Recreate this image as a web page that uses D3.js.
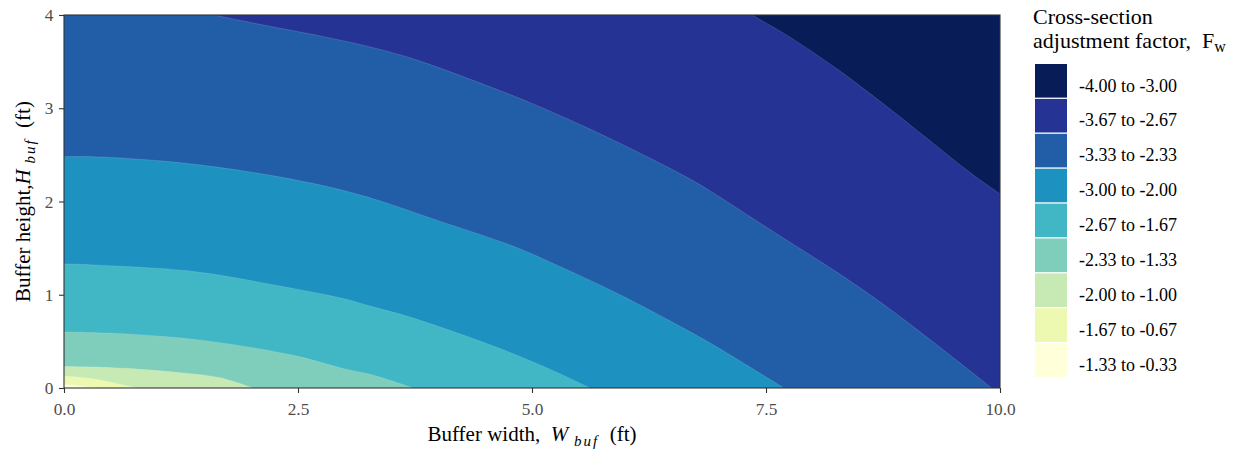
<!DOCTYPE html>
<html>
<head>
<meta charset="utf-8">
<script src="https://cdn.jsdelivr.net/npm/d3@7"></script>
<style>
  body { margin: 0; background: #ffffff; }
  svg { display: block; font-family: "Liberation Serif", "Times New Roman", serif; }
</style>
</head>
<body>
<svg id="chart" width="1237" height="452"></svg>
<script>
// Axis ticks
const xTickValues = [0, 2.5, 5, 7.5, 10];
const yTickValues = [0, 1, 2, 3, 4];

// Legend bins, darkest to lightest
const binLabels = [
  "-4.00 to -3.00", "-3.67 to -2.67", "-3.33 to -2.33",
  "-3.00 to -2.00", "-2.67 to -1.67", "-2.33 to -1.33",
  "-2.00 to -1.00", "-1.67 to -0.67", "-1.33 to -0.33"
];

// Contour boundaries as [W (ft), H (ft)] points, each running from the
// left/top edge of the panel to the bottom/right edge.
const edge1to2 = [[7.35, 4.00], [7.76, 3.76], [8.26, 3.42], [8.75, 3.05], [9.29, 2.62], [9.68, 2.31], [10.00, 2.08]];
const edge2to3 = [[1.60, 4.00], [2.09, 3.90], [2.81, 3.76], [3.30, 3.65], [3.73, 3.53], [4.34, 3.31], [4.98, 3.06],
                  [5.76, 2.71], [6.69, 2.24], [6.97, 2.07], [7.65, 1.63], [8.26, 1.24], [8.75, 0.90], [9.29, 0.49], [9.91, 0.00]];
const edge3to4 = [[0.00, 2.48], [0.31, 2.48], [1.20, 2.42], [2.09, 2.30], [2.81, 2.16], [3.30, 2.03], [3.98, 1.80],
                  [4.80, 1.52], [5.26, 1.32], [5.94, 1.00], [6.62, 0.64], [6.94, 0.46], [7.69, 0.00]];
const edge4to5 = [[0.00, 1.33], [0.31, 1.32], [1.38, 1.25], [2.27, 1.10], [2.98, 0.96], [3.30, 0.87], [3.73, 0.75],
                  [4.69, 0.41], [5.26, 0.17], [5.62, 0.00]];
const edge5to6 = [[0.00, 0.60], [0.67, 0.58], [1.49, 0.51], [2.45, 0.35], [2.98, 0.21], [3.30, 0.14], [3.73, 0.00]];
const edge6to7 = [[0.00, 0.23], [0.49, 0.22], [1.20, 0.17], [1.67, 0.11], [2.02, 0.00]];
const edge7to8 = [[0.00, 0.13], [0.31, 0.10], [0.78, 0.00]];
const edge8to9 = [[0.00, 0.04], [0.35, 0.00]];

const boundaries = [edge1to2, edge2to3, edge3to4, edge4to5, edge5to6, edge6to7, edge7to8, edge8to9];

// YlGnBu fills, darkest to lightest
const palette = ["#081d58", "#253494", "#225ea8", "#1d91c0", "#41b6c4", "#7fcdbb", "#c7e9b4", "#edf8b1", "#ffffd9"];

const svg = d3.select("#chart");
const panel = { left: 64, right: 1000, top: 15, bottom: 388 };

const x = d3.scaleLinear().domain([0, 10]).range([panel.left, panel.right]);
const y = d3.scaleLinear().domain([0, 4]).range([panel.bottom, panel.top]);

svg.append("defs").append("clipPath").attr("id", "panel-clip")
  .append("rect")
  .attr("x", panel.left).attr("y", panel.top)
  .attr("width", panel.right - panel.left).attr("height", panel.bottom - panel.top);

const plot = svg.append("g").attr("clip-path", "url(#panel-clip)");

// Base band (most negative) fills the whole panel
plot.append("rect")
  .attr("x", x(0)).attr("y", y(4))
  .attr("width", x(10) - x(0)).attr("height", y(0) - y(4))
  .attr("fill", palette[0]);

const curve = d3.line().x(d => x(d[0])).y(d => y(d[1])).curve(d3.curveCatmullRom.alpha(0.5));

// Each boundary encloses the lower-left region holding the next lighter band
boundaries.forEach((pts, i) => {
  const first = pts[0], last = pts[pts.length - 1];
  let d = curve(pts);
  if (last[1] > 0) d += `L${x(10)},${y(0)}`;
  d += `L${x(0)},${y(0)}`;
  if (first[0] > 0) d += `L${x(0)},${y(4)}`;
  d += "Z";
  plot.append("path").attr("d", d).attr("fill", palette[i + 1]);
});

// faint seams along the band edges
boundaries.forEach(pts => {
  plot.append("path").attr("d", curve(pts))
    .attr("fill", "none").attr("stroke", "#ffffff")
    .attr("stroke-opacity", 0.18).attr("stroke-width", 0.8);
});

// Axes
const xAxis = svg.append("g")
  .attr("transform", `translate(0,${panel.bottom})`)
  .call(d3.axisBottom(x).tickValues(xTickValues).tickFormat(d3.format(".1f")).tickSize(5).tickPadding(9.5));
const yAxis = svg.append("g")
  .attr("transform", `translate(${panel.left},0)`)
  .call(d3.axisLeft(y).tickValues(yTickValues).tickFormat(d3.format("d")).tickSize(5).tickPadding(5.5));

[xAxis, yAxis].forEach(g => {
  g.select(".domain").remove();
  g.selectAll(".tick line").attr("stroke", "#333333").attr("stroke-width", 1.1);
  g.selectAll(".tick text")
    .attr("fill", "#4d4d4d")
    .style("font-family", "'Liberation Serif', 'Times New Roman', serif")
    .style("font-size", "17.3px");
});

// Panel border
svg.append("rect")
  .attr("x", panel.left).attr("y", panel.top)
  .attr("width", panel.right - panel.left).attr("height", panel.bottom - panel.top)
  .attr("fill", "none").attr("stroke", "#333333").attr("stroke-width", 1.1);

// Axis titles
const xTitle = svg.append("text")
  .attr("x", (panel.left + panel.right) / 2).attr("y", 441)
  .attr("text-anchor", "middle").style("font-size", "21px").attr("fill", "#000");
xTitle.append("tspan").text("Buffer width,\u00a0\u00a0");
xTitle.append("tspan").attr("font-style", "italic").text("W");
xTitle.append("tspan").attr("font-style", "italic").attr("font-size", "15px")
  .attr("letter-spacing", "2px").attr("dy", 5).text("\u00a0buf");
xTitle.append("tspan").attr("dy", -5).text("\u00a0\u00a0(ft)");

const yTitle = svg.append("text")
  .attr("transform", `translate(30,${(panel.top + panel.bottom) / 2}) rotate(-90)`)
  .attr("text-anchor", "middle").style("font-size", "21px").attr("fill", "#000");
yTitle.append("tspan").text("Buffer height,");
yTitle.append("tspan").attr("font-style", "italic").text("H");
yTitle.append("tspan").attr("font-style", "italic").attr("font-size", "15px")
  .attr("letter-spacing", "2px").attr("dy", 5).text("\u00a0buf");
yTitle.append("tspan").attr("dy", -5).text("\u00a0\u00a0(ft)");

// Legend
const legend = svg.append("g");
legend.append("text").attr("x", 1033).attr("y", 24).style("font-size", "22px").text("Cross-section");
const lt2 = legend.append("text").attr("x", 1033).attr("y", 48).style("font-size", "22px");
lt2.append("tspan").text("adjustment factor,\u00a0\u00a0F");
lt2.append("tspan").attr("font-size", "16px").attr("dy", 4).text("w");

const keyTop = 64, keyStep = 34.9, keyH = 33.6;
binLabels.forEach((lab, i) => {
  legend.append("rect")
    .attr("x", 1035).attr("y", keyTop + i * keyStep)
    .attr("width", 32).attr("height", keyH)
    .attr("fill", palette[i]);
  legend.append("text")
    .attr("x", 1079).attr("y", keyTop + i * keyStep + 27.5)
    .style("font-size", "18px").attr("fill", "#000")
    .text(lab);
});
</script>
</body>
</html>
